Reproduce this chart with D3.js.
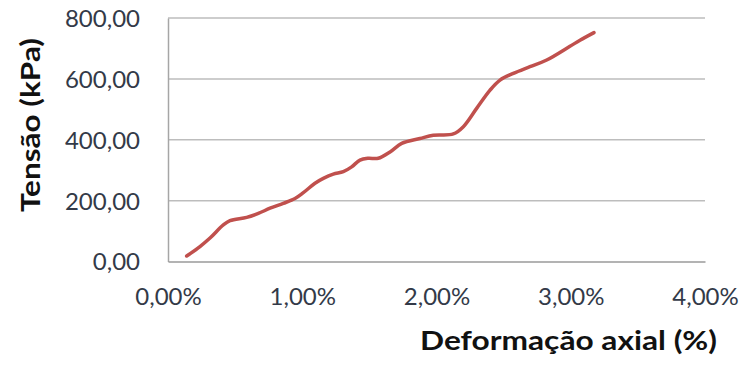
<!DOCTYPE html>
<html>
<head>
<meta charset="utf-8">
<script src="https://cdn.jsdelivr.net/npm/d3@7"></script>
<style>
  html, body { margin: 0; padding: 0; background: #fff; }
  svg { display: block; }
</style>
</head>
<body>
<svg id="chart" width="744" height="367"></svg>
<script>
// Deformação axial (%) vs Tensão (kPa)
const strain = [0.139, 0.238, 0.313, 0.412, 0.462, 0.586, 0.673, 0.760, 0.859, 0.946,
                1.008, 1.095, 1.157, 1.231, 1.306, 1.368, 1.430, 1.490, 1.566, 1.654,
                1.741, 1.877, 1.976, 2.125, 2.200, 2.299, 2.399, 2.473, 2.572, 2.696,
                2.821, 2.994, 3.069, 3.173];
const stress = [18, 49, 77, 120, 134, 145, 158, 175, 191, 207,
                226, 257, 273, 287, 295, 311, 333, 339, 339, 360,
                388, 404, 415, 419, 443, 503, 563, 596, 618, 640,
                662, 707, 727, 752];
const xTicks = [0, 1, 2, 3, 4];
const yTicks = [0, 200, 400, 600, 800];

const svg = d3.select("#chart");
const plotLeft = 168, plotRight = 705, plotTop = 18, plotBottom = 261.5;

const x = d3.scaleLinear().domain([0, 4]).range([plotLeft, plotRight]);
const y = d3.scaleLinear().domain([0, 800]).range([plotBottom, plotTop]);

const fmtY = v => d3.format(".2f")(v).replace(".", ",");
const fmtX = v => d3.format(".2f")(v).replace(".", ",") + "%";

// horizontal gridlines
svg.append("g")
  .selectAll("line")
  .data(yTicks.filter(d => d > 0))
  .join("line")
  .attr("x1", plotLeft).attr("x2", plotRight)
  .attr("y1", d => y(d)).attr("y2", d => y(d))
  .attr("stroke", "#bdbdbd").attr("stroke-width", 1.5);

// y axis
const yAxis = svg.append("g")
  .attr("transform", `translate(${plotLeft},0)`)
  .call(d3.axisLeft(y).tickValues(yTicks).tickFormat(fmtY).tickSize(0).tickPadding(28));
yAxis.select(".domain").attr("stroke", "#a6a6a6").attr("stroke-width", 1.5);
yAxis.selectAll("text")
  .attr("font-family", "Lato, sans-serif").attr("font-size", 24)
  .attr("fill", "#333a48").attr("dy", "0.35em");

// x axis
const xAxis = svg.append("g")
  .attr("transform", `translate(0,${plotBottom})`)
  .call(d3.axisBottom(x).tickValues(xTicks).tickFormat(fmtX).tickSize(0).tickPadding(26));
xAxis.select(".domain").attr("stroke", "#9a9a9a").attr("stroke-width", 1.5);
xAxis.selectAll("text")
  .attr("font-family", "Lato, sans-serif").attr("font-size", 24)
  .attr("fill", "#333a48").attr("dy", "0.35em").attr("y", 35);

// axis titles
svg.append("text")
  .attr("x", 420).attr("y", 350)
  .attr("textLength", 297).attr("lengthAdjust", "spacingAndGlyphs")
  .attr("font-family", "Lato, sans-serif").attr("font-weight", "bold").attr("font-size", 26)
  .attr("fill", "#111")
  .text("Deformação axial (%)");

svg.append("text")
  .attr("transform", "translate(40,212) rotate(-90)")
  .attr("textLength", 174).attr("lengthAdjust", "spacingAndGlyphs")
  .attr("font-family", "Lato, sans-serif").attr("font-weight", "bold").attr("font-size", 26)
  .attr("fill", "#111")
  .text("Tensão (kPa)");

// stress–strain curve
const line = d3.line()
  .x((d, i) => x(strain[i]))
  .y(d => y(d))
  .curve(d3.curveCatmullRom.alpha(0.5));

svg.append("path")
  .datum(stress)
  .attr("d", line)
  .attr("fill", "none")
  .attr("stroke", "#c0504d")
  .attr("stroke-width", 3.5)
  .attr("stroke-linecap", "round")
  .attr("stroke-linejoin", "round");
</script>
</body>
</html>
